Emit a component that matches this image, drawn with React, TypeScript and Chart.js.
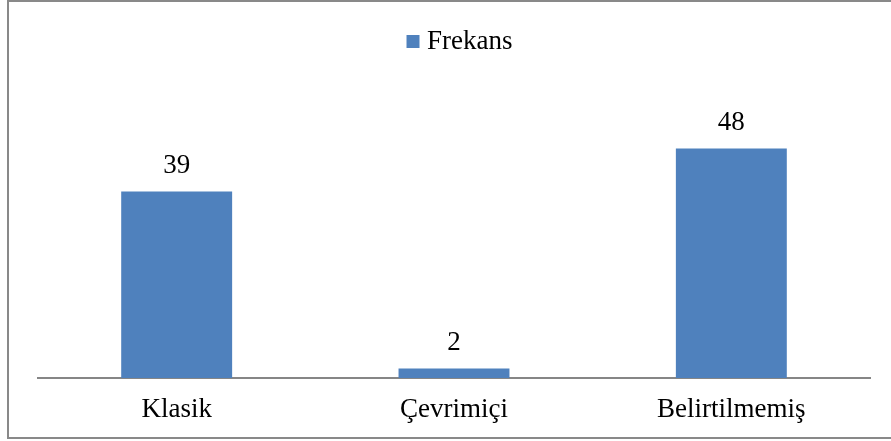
import React, { useEffect, useRef } from "react";
import { Chart, registerables } from "chart.js";

Chart.register(...registerables);

const categories = ["Klasik", "Çevrimiçi", "Belirtilmemiş"];
const seriesName = "Frekans";
const frekans = [39, 2, 48];

const BAR_COLOR = "#4f81bd";
const FONT = "'Liberation Serif', 'Times New Roman', serif";
const FONT_SIZE = 27;

const dataLabels = {
  id: "dataLabels",
  afterDatasetsDraw(chart: any) {
    const ctx = chart.ctx;
    const meta = chart.getDatasetMeta(0);
    ctx.save();
    ctx.font = `${FONT_SIZE}px ${FONT}`;
    ctx.fillStyle = "#000";
    ctx.textAlign = "center";
    ctx.textBaseline = "alphabetic";
    meta.data.forEach((el: any, i: number) => {
      ctx.fillText(String(chart.data.datasets[0].data[i]), el.x, el.y - 18);
    });
    ctx.restore();
  },
};

const legendHeight = {
  id: "legendHeight",
  beforeInit(chart: any) {
    const lg = chart.legend;
    if (!lg) return;
    const orig = lg.fit;
    lg.fit = function () {
      orig.call(this);
      this.height = 91;
    };
  },
};

export default function App() {
  const ref = useRef<HTMLCanvasElement>(null);
  useEffect(() => {
    if (!ref.current) return;
    const chart = new Chart(ref.current, {
      type: "bar",
      data: {
        labels: categories,
        datasets: [
          {
            label: seriesName,
            data: frekans,
            backgroundColor: BAR_COLOR,
            borderWidth: 0,
            barPercentage: 0.4,
            categoryPercentage: 1.0,
          },
        ],
      },
      options: {
        responsive: false,
        animation: false,
        devicePixelRatio: 1,
        layout: { padding: { left: 38, right: 4, top: 0, bottom: 0 } },
        plugins: {
          tooltip: { enabled: false },
          legend: {
            display: true,
            position: "top",
            labels: {
              usePointStyle: true,
              pointStyle: "rect",
              boxWidth: 1,
              boxHeight: 13,
              padding: 28,
              color: "#000",
              font: { family: FONT, size: FONT_SIZE },
            },
          },
        },
        scales: {
          x: {
            grid: { display: false, drawTicks: false },
            border: { display: true, color: "#868686", width: 2 },
            ticks: {
              color: "#000",
              padding: 16,
              font: { family: FONT, size: FONT_SIZE },
            },
            afterFit: (s: any) => {
              s.height = 63;
            },
          },
          y: {
            position: "right",
            min: 0,
            max: 60,
            grid: { display: false, drawTicks: false },
            border: { display: false },
            ticks: { display: false },
            afterFit: (s: any) => {
              s.width = 17;
            },
          },
        },
      },
      plugins: [dataLabels, legendHeight],
    });
    return () => chart.destroy();
  }, []);

  return (
    <div
      style={{
        position: "absolute",
        left: 0,
        top: 0,
        width: 891,
        height: 441,
        overflow: "hidden",
        background: "#fff",
      }}
    >
      <div
        style={{
          position: "absolute",
          left: 7,
          top: 0,
          width: 1000,
          height: 439,
          boxSizing: "border-box",
          border: "2px solid #898989",
        }}
      />
      <canvas
        ref={ref}
        width={891}
        height={441}
        style={{ position: "absolute", left: 0, top: 0, width: 891, height: 441 }}
      />
    </div>
  );
}
